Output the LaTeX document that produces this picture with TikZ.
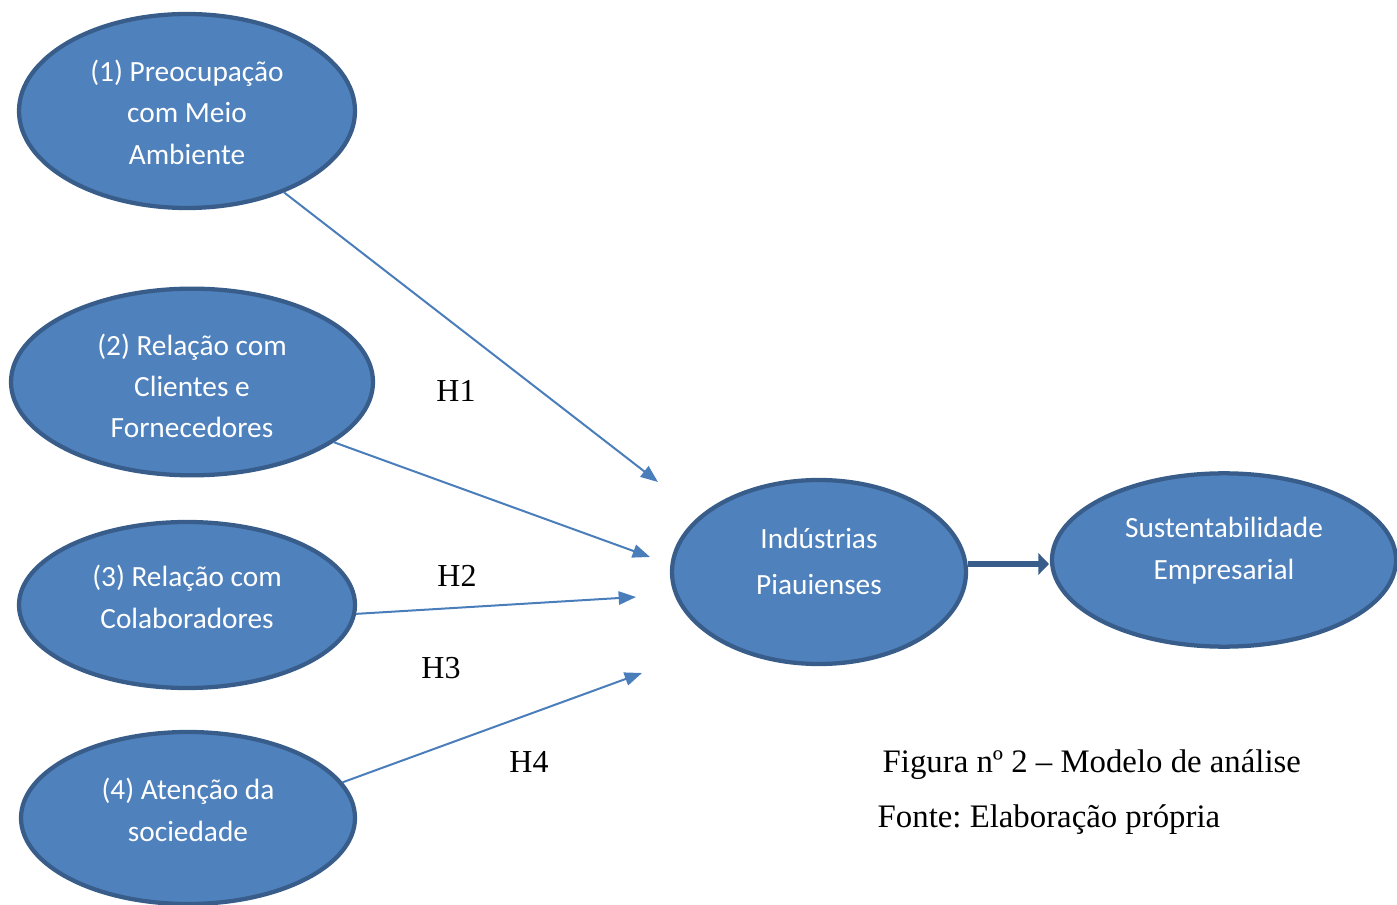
\documentclass[tikz,border=0pt]{standalone}
\usepackage{fontspec}
\setmainfont{Liberation Serif}
\newfontfamily\calfont{Carlito}
\usetikzlibrary{shapes.geometric,arrows.meta}
\definecolor{efill}{HTML}{4F81BD}
\definecolor{edraw}{HTML}{385D8A}
\definecolor{lcol}{HTML}{4A7EBB}
\frenchspacing
\tikzset{
  ell/.style={ellipse, fill=efill, draw=edraw, line width=3.2pt, inner sep=0pt},
  etxt/.style={text=white, font=\calfont\fontsize{22}{31}\selectfont, align=center},
  conn/.style={draw=lcol, line width=1.5pt, -{Triangle[length=13pt,width=10pt]}},
  bigarrow/.style={draw=edraw, line width=5pt, -{Triangle[length=8pt,width=16pt]}},
  hlab/.style={font=\fontsize{24}{29}\selectfont},
  captxt/.style={font=\fontsize{24.6}{29}\selectfont, anchor=west}
}
\begin{document}
\begin{tikzpicture}[x=0.75pt,y=-0.75pt]
\useasboundingbox (0,0) rectangle (1397,905);
\node[ell, minimum width=252pt, minimum height=145.5pt,
  label={[etxt, yshift=-1pt]center:{(1) Preocupação\\com Meio\\Ambiente}}] (e1) at (187,111) {};
\node[ell, minimum width=271.5pt, minimum height=140pt,
  label={[etxt, yshift=-3pt]center:{(2) Relação com\\Clientes e\\Fornecedores}}] (e2) at (192,382) {};
\node[ell, minimum width=252pt, minimum height=124.5pt,
  label={[etxt, yshift=6pt]center:{(3) Relação com\\Colaboradores}}] (e3) at (187,605) {};
\node[ell, minimum width=250.5pt, minimum height=129pt,
  label={[etxt, yshift=6pt]center:{(4) Atenção da\\sociedade}}] (e4) at (188,818) {};
\node[ell, minimum width=220.5pt, minimum height=138pt,
  label={[etxt, yshift=8pt, font=\calfont\fontsize{22}{34}\selectfont]center:{Indústrias\\Piauienses}}] (ind) at (819,572) {};
\node[ell, minimum width=258pt, minimum height=130pt,
  label={[etxt, yshift=7pt]center:{Sustentabilidade\\Empresarial}}] (sus) at (1224,560) {};
\coordinate (t1) at (658,482);
\coordinate (t2) at (650,557);
\coordinate (t3) at (636,597);
\coordinate (t4) at (642,673);
\draw[conn] (e1.-40) -- (t1);
\draw[conn] (e2.-23) -- (t2);
\draw[conn] (e3.-3) -- (t3);
\draw[conn] (e4.13) -- (t4);
\coordinate (a0) at (968,564);
\coordinate (a1) at (1049,564);
\draw[bigarrow] (a0) -- (a1);
\node[hlab] (h1) at (456,391) {H1};
\node[hlab] (h2) at (457,576) {H2};
\node[hlab] (h3) at (441,668) {H3};
\node[hlab] (h4) at (529,762) {H4};
\node[captxt] (c1) at (878,765) {Figura nº 2 – Modelo de análise};
\node[captxt] (c2) at (873,820) {Fonte: Elaboração própria};
\end{tikzpicture}
\end{document}
